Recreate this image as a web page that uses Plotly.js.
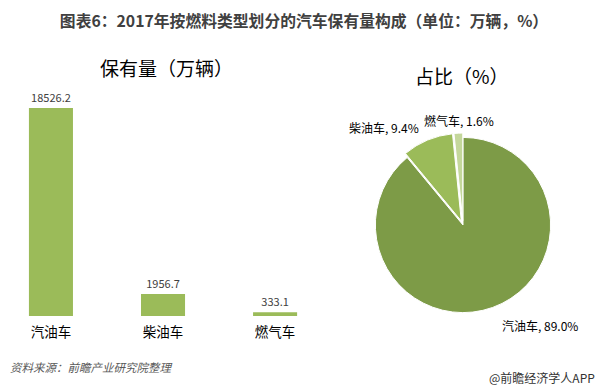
<!DOCTYPE html>
<html><head><meta charset="utf-8">
<script src="https://cdn.plot.ly/plotly-3.0.1.min.js"></script>
<style>html,body{margin:0;padding:0;background:#fff}#c{width:608px;height:392px}</style>
</head><body><div id="c"></div>
<script>
const categories = ['汽油车', '柴油车', '燃气车'];
const stock = [18526.2, 1956.7, 333.1];
const stockLabels = ['18526.2', '1956.7', '333.1'];
const shareLabels = ['89.0%', '9.4%', '1.6%'];
const pieColors = ['#7D9B47', '#9BBB59', '#C4D79B'];

const F = '"Noto Sans CJK SC", "Noto Sans", sans-serif';

const bar = {
  type: 'bar', x: categories, y: stock, text: stockLabels,
  textposition: 'outside', cliponaxis: false,
  textfont: {size: 11, color: '#404040', family: F},
  marker: {color: '#9BBB59'}, xaxis: 'x', yaxis: 'y', hoverinfo: 'none'
};
const pie = {
  type: 'pie', labels: categories, values: stock, sort: false,
  direction: 'clockwise', rotation: 0, textinfo: 'none',
  pull: [0, 0.05, 0.05],
  marker: {colors: pieColors, line: {color: '#ffffff', width: 1}},
  domain: {x: [0.6102, 0.9128], y: [0.1913, 0.6607]}, showlegend: false, hoverinfo: 'none'
};

const pieLabelPos = [[540, 325], [384, 128], [459, 120]];
const base = {xref: 'paper', yref: 'paper', showarrow: false, xanchor: 'center', yanchor: 'middle'};
const ann = [
  {text: '保有量（万辆）', x: 166/608, y: 1-68/392},
  {text: '占比（%）', x: 462/608, y: 1-75/392}
].map(a => ({...base, ...a, font: {size: 19, color: '#000', family: F}}));
categories.forEach((c, i) => ann.push({...base,
  text: c + ', ' + shareLabels[i],
  x: pieLabelPos[i][0]/608, y: 1 - pieLabelPos[i][1]/392,
  font: {size: 12, color: '#000', family: F}
}));
ann.push({...base, text: '<i>资料来源：前瞻产业研究院整理</i>', x: 8/608, y: 1-367/392,
  xanchor: 'left', font: {size: 11.5, color: '#595959', family: F}});
ann.push({...base, text: '@前瞻经济学人APP', x: 597/608, y: 1-377/392,
  xanchor: 'right', font: {size: 12, color: '#333', family: F}});

const layout = {
  width: 608, height: 392, margin: {l: 0, r: 0, t: 0, b: 0},
  paper_bgcolor: '#fff', plot_bgcolor: 'rgba(0,0,0,0)', showlegend: false,
  title: {text: '<b>图表6：2017年按燃料类型划分的汽车保有量构成（单位：万辆，%）</b>', x: 0.5, xanchor: 'center',
    y: 1-21/392, yanchor: 'middle', font: {size: 15.8, color: '#404040', family: F}},
  xaxis: {domain: [5/608, 330/608], range: [-0.41, 2.49], showgrid: false, zeroline: false, showline: false,
    ticks: '', ticklabelstandoff: 6, tickfont: {size: 13.5, color: '#000', family: F}, fixedrange: true},
  yaxis: {domain: [1-316/392, 1-80/392], range: [0, 21020], visible: false, fixedrange: true},
  bargap: 0.607,
  annotations: ann
};
Plotly.newPlot('c', [bar, pie], layout, {staticPlot: true});
</script></body></html>
